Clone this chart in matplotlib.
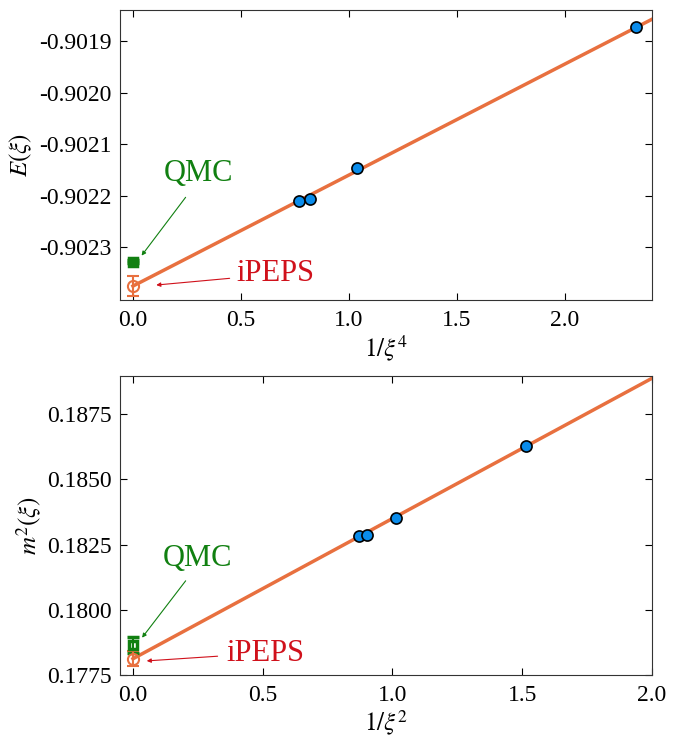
import numpy as np
import matplotlib
matplotlib.use('Agg')
from matplotlib import pyplot as plt

plt.rcParams['font.family'] = ['Liberation Serif', 'DejaVu Serif']
plt.rcParams['mathtext.fontset'] = 'stix'

# energy vs 1/xi^4
x_e = [0.769, 0.819, 1.038, 2.331]
y_e = [-0.902211, -0.902207, -0.902147, -0.901873]
e_ipeps, e_ipeps_err = -0.902375, 0.000019
e_qmc, e_qmc_err = -0.902328, 0.000003
e_fit = [-0.902375, 0.000215]   # intercept, slope

# m^2 vs 1/xi^2
x_m = [0.872, 0.903, 1.014, 1.514]
y_m = [0.18281, 0.18288, 0.18350, 0.18626]
m_ipeps, m_ipeps_err = 0.178123, 0.00028
m_qmc, m_qmc_err = 0.17866, 0.00031
m_fit = [0.178123, 0.005375]

line_c = '#E8703F'
dot_c = '#0A8CEB'
qmc_c = '#118011'
ipeps_c = '#D0111B'

fig = plt.figure(figsize=(6.83, 7.40), dpi=100)
ax1 = fig.add_axes([120/683, 1-300/740, 532/683, 290/740])
ax2 = fig.add_axes([120/683, 1-675/740, 532/683, 299/740])

def panel(ax, xs, ys, fit, ip, ip_err, qm, qm_err, xlim, ylim):
    xx = np.linspace(0, xlim[1] + 0.1, 50)
    ax.plot(xx, fit[0] + fit[1]*xx, color=line_c, lw=2.5, zorder=2)
    ax.plot(xs, ys, 'o', ms=8, mfc=dot_c, mec='black', mew=1.2, zorder=3)
    ax.errorbar([0], [qm], yerr=[qm_err], fmt='s', ms=6, mfc='none', mec=qmc_c,
                mew=2.5, ecolor=qmc_c, elinewidth=1.5, capsize=4, capthick=1.5, zorder=4)
    ax.errorbar([0], [ip], yerr=[ip_err], fmt='o', ms=8, mfc='none', mec=line_c,
                mew=1.5, ecolor=line_c, elinewidth=1.5, capsize=4, capthick=1.5, zorder=4)
    ax.set_xlim(xlim)
    ax.set_ylim(ylim)
    ax.tick_params(direction='in', top=True, right=True, labelsize=17, length=5)
    ax.tick_params(axis='x', pad=7)
    ax.tick_params(axis='y', pad=6)
    for s in ax.spines.values():
        s.set_color('#333333')

def label(ax, txt, pos, start, end, c):
    ax.text(pos[0], pos[1], txt, color=c, fontsize=22, ha='center', va='center')
    ax.annotate('', xy=end, xytext=start,
                arrowprops=dict(arrowstyle='-|>', color=c, lw=0.8, mutation_scale=6,
                                shrinkA=0, shrinkB=0))

panel(ax1, x_e, y_e, e_fit, e_ipeps, e_ipeps_err, e_qmc, e_qmc_err,
      (-0.06, 2.405), (-0.902402, -0.90184))
ax1.set_xticks([0.0, 0.5, 1.0, 1.5, 2.0])
ax1.set_yticks([-0.9023, -0.9022, -0.9021, -0.9020, -0.9019])
ax1.set_yticklabels(['%.4f' % v for v in ax1.get_yticks()])
ax1.set_xlabel(r'$1/\xi^4$', fontsize=18, labelpad=2)
ax1.set_ylabel(r'$E(\xi)$', fontsize=18, labelpad=4)
label(ax1, 'QMC', (0.305, -0.902156), (0.244, -0.902203), (0.04, -0.902316), qmc_c)
label(ax1, 'iPEPS', (0.66, -0.902350), (0.448, -0.902360), (0.108, -0.902373), ipeps_c)

panel(ax2, x_m, y_m, m_fit, m_ipeps, m_ipeps_err, m_qmc, m_qmc_err,
      (-0.05, 2.0), (0.1775, 0.18896))
ax2.set_xticks([0.0, 0.5, 1.0, 1.5, 2.0])
ax2.set_yticks([0.1775, 0.1800, 0.1825, 0.1850, 0.1875])
ax2.set_yticklabels(['%.4f' % v for v in ax2.get_yticks()])
ax2.set_xlabel(r'$1/\xi^2$', fontsize=18, labelpad=2)
ax2.set_ylabel(r'$m^2(\xi)$', fontsize=18, labelpad=2)
label(ax2, 'QMC', (0.249, 0.18195), (0.203, 0.18111), (0.035, 0.17893), qmc_c)
label(ax2, 'iPEPS', (0.511, 0.17834), (0.326, 0.17822), (0.053, 0.17804), ipeps_c)

plt.savefig('out.png', dpi=100)
plt.close()
